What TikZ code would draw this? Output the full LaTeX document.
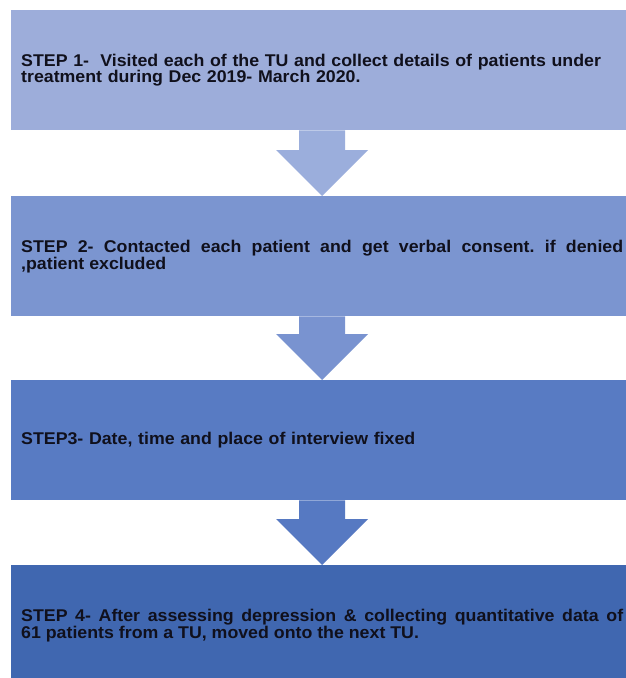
\documentclass[tikz,border=0pt]{standalone}
\usepackage{fontspec}
\setmainfont[FakeStretch=1.045]{Liberation Sans}
\usetikzlibrary{calc}
\definecolor{c1}{HTML}{9DADDA}
\definecolor{c2}{HTML}{7B95D0}
\definecolor{c3}{HTML}{587BC3}
\definecolor{c4}{HTML}{4067B0}
\definecolor{a1}{HTML}{9BAEDC}
\definecolor{a2}{HTML}{7993D0}
\definecolor{a3}{HTML}{5679C2}
\definecolor{tx}{HTML}{10101C}
\newcommand{\blockarrow}[3]{%
  \fill[#3] ([xshift=-23pt]#1.south) -- ([xshift=23pt]#1.south)
    -- ([xshift=23pt,yshift=46pt]#2.north) -- ([xshift=46pt,yshift=46pt]#2.north)
    -- (#2.north) -- ([xshift=-46pt,yshift=46pt]#2.north)
    -- ([xshift=-23pt,yshift=46pt]#2.north) -- cycle;}
\begin{document}
\frenchspacing
\begin{tikzpicture}[x=1pt,y=-1pt,
  stepbox/.style={rectangle, anchor=north west, text width=602pt,
    inner xsep=10pt, inner ysep=0pt, minimum height=120pt,
    font=\fontsize{17}{15.8}\selectfont\bfseries\frenchspacing, text=tx},
  leftbox/.style={stepbox, align=left},
  justbox/.style={stepbox, align=justify}]
\fill[white] (0,0) rectangle (626,678);
\useasboundingbox (0,0) rectangle (626,678);
\node[leftbox, fill=c1] (b1) at (11,10)
  {STEP 1-~ Visited each of the TU and collect details of patients under\\treatment during Dec 2019- March 2020.};
\node[justbox, fill=c2] (b2) at (11,196)
  {STEP 2- Contacted each patient and get verbal consent. if denied\linebreak ,patient excluded};
\node[leftbox, fill=c3] (b3) at (11,380)
  {STEP3- Date, time and place of interview fixed};
\node[justbox, fill=c4] (b4) at (11,565)
  {STEP 4- After assessing depression \& collecting quantitative data of\linebreak 61 patients from a TU, moved onto the next TU.};
\blockarrow{b1}{b2}{a1}
\blockarrow{b2}{b3}{a2}
\blockarrow{b3}{b4}{a3}
\end{tikzpicture}
\end{document}
